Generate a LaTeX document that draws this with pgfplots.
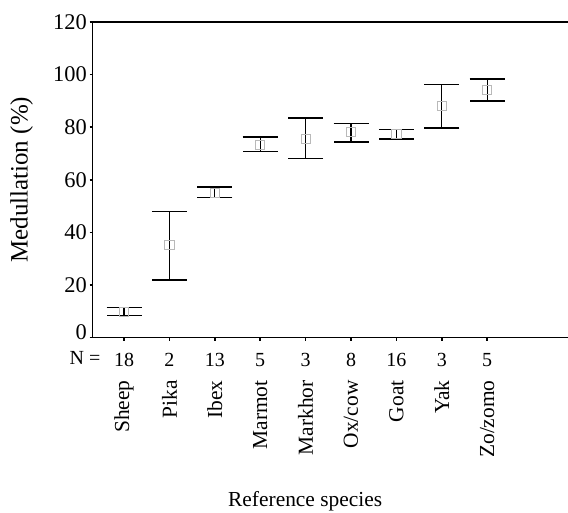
\documentclass[border=0pt]{standalone}
\usepackage{pgfplots}
\pgfplotsset{compat=1.18}
\usepackage{pgfplotstable}
\usepackage{fontspec}
\setmainfont{Liberation Serif}

% x = category index, y = mean, ep/em = upper/lower bar length
\pgfplotstableread{
x  y     ep    em
0  9.7   1.8   1.4
1  35.3  12.7  13.4
2  55.0  2.2   1.8
3  73.3  3.0   2.6
4  75.5  8.0   7.4
5  78.2  3.2   3.8
6  77.3  1.9   1.8
7  88.2  7.9   8.5
8  94.1  4.2   4.2
}\medtable

\begin{document}
\begin{tikzpicture}
\useasboundingbox (-46.35pt,-87.25pt) rectangle (237.6pt,168.75pt);
\begin{axis}[
  scale only axis, width=237.6pt, height=157.75pt,
  xmin=-0.69, xmax=9.78, ymin=0, ymax=120,
  axis x line=bottom, axis y line=left,
  axis line style={-, line width=0.75pt},
  clip=false,
  xtick={0,...,8},
  xticklabels={18,2,13,5,3,8,16,3,5},
  ytick={0,20,...,120},
  yticklabels={\raisebox{5.5pt}{0},20,40,60,80,100,120},
  tick align=outside, major tick length=1.5pt,
  tick style={black, line width=0.75pt},
  /pgf/number format/assume math mode=true,
  xticklabel style={font=\fontsize{10}{12}\selectfont, yshift=-3pt},
  yticklabel style={font=\fontsize{11.2}{13}\selectfont, inner sep=0pt, xshift=-1.3pt},
  ylabel={Medullation (\%)},
  ylabel style={font=\fontsize{12.5}{14}\selectfont, at={(axis description cs:-0.1494,0.5)}, anchor=center},
  xlabel={Reference species},
  xlabel style={font=\fontsize{10.7}{13}\selectfont, at={(axis description cs:0.447,-0.5186)}, anchor=center},
]
\addplot[only marks, mark=square, mark size=2.3pt,
  mark options={draw=gray!55, line width=0.5pt},
  error bars/.cd, y dir=both, y explicit,
  error bar style={black, line width=0.65pt},
  error mark options={rotate=90, mark size=8.75pt, line width=0.65pt, black}]
  table[x=x, y=y, y error plus=ep, y error minus=em] {\medtable};
\draw[line width=0.75pt] (rel axis cs:0,1) -- (rel axis cs:1,1);
\node[font=\fontsize{10}{12}\selectfont] at (axis cs:-0.86,0) [yshift=-10.25pt] {N =};
\def\sp#1#2{\node[yshift=-21.25pt, rotate=90, anchor=east, inner sep=0pt,
  font=\fontsize{10.7}{13}\selectfont] at (axis cs:#1,0) {#2};}
\sp{0}{Sheep}
\sp{1}{Pika}
\sp{2}{Ibex}
\sp{3}{Marmot}
\sp{4}{Markhor}
\sp{5}{Ox/cow}
\sp{6}{Goat}
\sp{7}{Yak}
\sp{8}{Zo/zomo}
\end{axis}
\end{tikzpicture}
\end{document}
